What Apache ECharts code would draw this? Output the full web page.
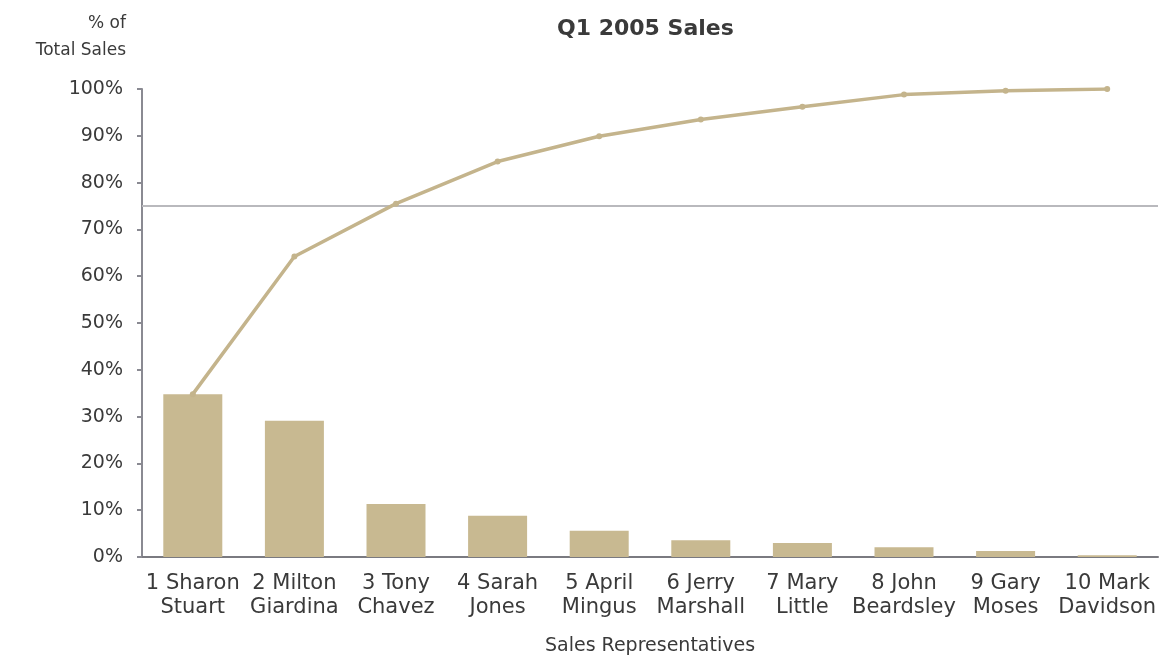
<!DOCTYPE html>
<html>
<head>
<meta charset="utf-8">
<script src="https://cdn.jsdelivr.net/npm/echarts@6/dist/echarts.min.js"></script>
<style>
  html, body { margin: 0; padding: 0; background: #ffffff; }
  #chart { width: 1160px; height: 657px; }
</style>
</head>
<body>
<div id="chart"></div>
<script>
// ---- data ----
const categories = [
  "1 Sharon\nStuart", "2 Milton\nGiardina", "3 Tony\nChavez", "4 Sarah\nJones",
  "5 April\nMingus", "6 Jerry\nMarshall", "7 Mary\nLittle", "8 John\nBeardsley",
  "9 Gary\nMoses", "10 Mark\nDavidson"
];
const shareValues = [34.8, 29.1, 11.3, 8.8, 5.6, 3.6, 3.0, 2.1, 1.3, 0.4];
const cumulativeValues = [34.8, 64.2, 75.5, 84.5, 89.9, 93.5, 96.2, 98.8, 99.6, 100];
const thresholdValue = 75;
const yTicks = [0, 10, 20, 30, 40, 50, 60, 70, 80, 90, 100];

// ---- chart ----
const barColor = '#C8B991';
const lineColor = '#C4B48C';
const textColor = '#3a3a3a';
const font = 'DejaVu Sans';

const chart = echarts.init(document.getElementById('chart'), null, { renderer: 'canvas' });
chart.setOption({
  animation: false,
  backgroundColor: '#ffffff',
  title: {
    text: 'Q1 2005 Sales',
    left: 557,
    top: 18,
    padding: 0,
    textStyle: { fontFamily: font, fontSize: 22, fontWeight: 'bold', color: textColor }
  },
  grid: { left: 142, right: 2, top: 89, bottom: 100, containLabel: false, outerBoundsMode: 'none' },
  xAxis: {
    type: 'category',
    data: categories,
    name: 'Sales Representatives',
    nameLocation: 'middle',
    nameGap: 80,
    nameTextStyle: { fontFamily: font, fontSize: 19, color: textColor },
    axisLine: { show: true, lineStyle: { color: '#7a7a80', width: 2 } },
    axisTick: { show: false },
    axisLabel: {
      interval: 0, margin: 15, fontFamily: font, fontSize: 21,
      lineHeight: 24, color: textColor
    }
  },
  yAxis: {
    type: 'value',
    min: yTicks[0],
    max: yTicks[yTicks.length - 1],
    interval: yTicks[1] - yTicks[0],
    name: '% of\nTotal Sales',
    nameLocation: 'end',
    nameGap: 25,
    nameTextStyle: {
      fontFamily: font, fontSize: 17, color: textColor, align: 'right',
      verticalAlign: 'bottom', lineHeight: 27, padding: [0, 16, 0, 0]
    },
    axisLine: { show: true, lineStyle: { color: '#8a8a92', width: 2 } },
    axisTick: { show: true, inside: false, length: 5, lineStyle: { color: '#8a8a92', width: 2 } },
    axisLabel: {
      margin: 19, fontFamily: font, fontSize: 19, color: textColor,
      formatter: v => v + '%'
    },
    splitLine: { show: false }
  },
  series: [
    {
      type: 'bar',
      data: shareValues,
      barWidth: 59,
      itemStyle: { color: barColor },
      z: 1
    },
    {
      type: 'line',
      data: cumulativeValues,
      symbol: 'circle',
      symbolSize: 6,
      lineStyle: { color: lineColor, width: 3.5 },
      itemStyle: { color: lineColor },
      z: 3,
      markLine: {
        silent: true,
        symbol: ['none', 'none'],
        label: { show: false },
        lineStyle: { color: '#b9b9bd', width: 2, type: 'solid' },
        data: [{ yAxis: thresholdValue }],
        z: 2
      }
    }
  ]
});
</script>
</body>
</html>
